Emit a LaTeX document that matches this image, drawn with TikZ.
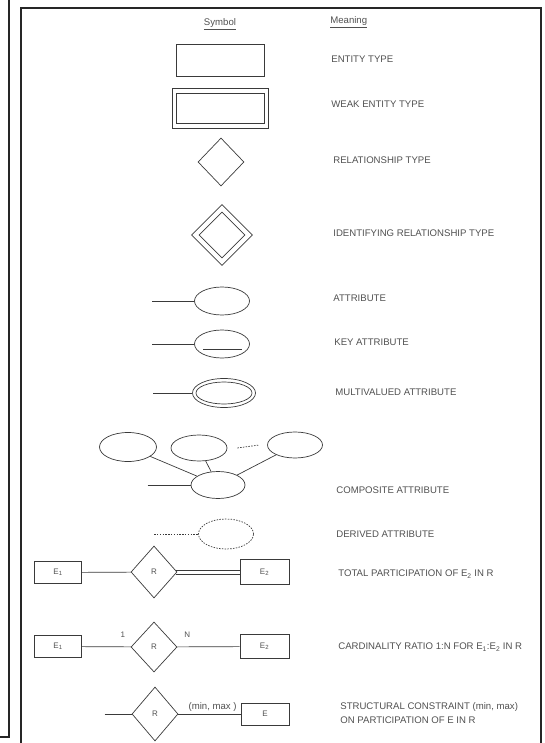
\documentclass[tikz,border=0pt]{standalone}
\usepackage{fontspec}
\setmainfont{Liberation Sans}
\usetikzlibrary{shapes.geometric,positioning}
\definecolor{ink}{HTML}{3A3A3A}
\definecolor{txt}{HTML}{505050}

\begin{document}
\begin{tikzpicture}[
  x=1pt,y=-1pt,
  font=\fontsize{9.6}{14}\selectfont,
  color=ink,line width=0.7pt,
  ent/.style={draw,rectangle,minimum width=88pt,minimum height=32pt,inner sep=0pt},
  rel/.style={draw,diamond,minimum width=46pt,minimum height=52pt,inner sep=0pt,
    font=\fontsize{8}{9}\selectfont,text=txt},
  attr/.style={draw,ellipse,minimum width=55pt,minimum height=28pt,inner sep=0pt},
  ebox/.style={draw,rectangle,minimum width=47pt,minimum height=22pt,inner sep=0pt,
    font=\fontsize{8}{9}\selectfont,text=txt},
  mean/.style={anchor=west,align=left,inner sep=0pt,text=txt},
  lbl/.style={inner sep=1pt,text=txt},
  derv/.style={dash pattern=on 1.5pt off 1.3pt},
  frame/.style={line width=1.5pt,draw=black!85}]
\useasboundingbox (0,0) rectangle (545,743);
\draw[frame] (9,0) -- (9,737) -- (0,737);
\draw[frame] (21,743) -- (21,8) -- (541,8) -- (541,743);

\node[lbl] (symh) at (220,24) {\underline{Symbol}};
\node[lbl,anchor=west,inner sep=0pt] (meah) at (330,22) {\underline{Meaning}};

\node[ent] (ent) at (220,60) {};
\node[ent,minimum width=96pt,minimum height=40pt] (weak) at (220,108) {};
\node[ent,minimum width=88pt,minimum height=30pt] (weakin) at (220,108) {};
\node[rel,minimum height=48pt] (rel) at (221,162) {};
\node[rel,minimum width=61pt,minimum height=61pt] (idrel) at (222,235) {};
\node[rel,minimum width=46pt,minimum height=46pt] (idrelin) at (222,235) {};

\node[attr] (att) at (222,301) {};
\coordinate[left=42pt of att] (attl);
\draw (attl) -- (att);

\node[attr] (key) at (222,344) {};
\coordinate[left=42pt of key] (keyl);
\draw (keyl) -- (key);
\draw ([shift={(-19,5)}]key.center) -- ([shift={(20,5)}]key.center);

\node[attr,minimum width=63pt,minimum height=29pt] (mult) at (224,393) {};
\node[attr,minimum width=56pt,minimum height=22pt] (multin) at (224,393) {};
\coordinate[left=39pt of mult] (multl);
\draw (multl) -- (mult);

\node[attr,minimum width=57pt,minimum height=29pt] (cp1) at (128,447) {};
\node[attr,minimum width=56pt,minimum height=26pt] (cp2) at (199,448) {};
\node[attr,minimum width=55pt,minimum height=26pt] (cp3) at (295,445) {};
\node[attr,minimum width=54pt,minimum height=27pt] (comp) at (218,485) {};
\coordinate[left=43pt of comp] (compl);
\coordinate[right=10pt of cp2] (dots1);
\coordinate[left=8pt of cp3] (dots2);
\draw (compl) -- (comp);
\draw (cp1) -- (comp); \draw (cp2) -- (comp); \draw (cp3) -- (comp);
\draw[derv] (dots1) -- (dots2);

\node[attr,derv,minimum width=55pt,minimum height=30pt] (der) at (226,534) {};
\coordinate[left=44pt of der] (derl);
\draw[derv] (derl) -- (der);

\node[ebox] (te1) at (58,572.5) {E\textsubscript{1}};
\node[rel] (tr) at (154,572) {R};
\node[ebox,minimum width=49pt,minimum height=25pt] (te2) at (264.5,572) {E\textsubscript{2}};
\draw (te1) -- (tr);
\draw ([shift={(-1.8,-2)}]tr.east) -- ([shift={(0,-2)}]te2.west);
\draw ([shift={(-1.8,2)}]tr.east) -- ([shift={(0,2)}]te2.west);

\node[ebox] (ce1) at (58,646.5) {E\textsubscript{1}};
\node[rel,minimum height=50pt] (cr) at (154,647) {R};
\node[ebox,minimum width=49pt,minimum height=24pt] (ce2) at (264.5,646.5) {E\textsubscript{2}};
\draw (ce1) -- node[lbl,pos=0.84,above=8pt,font=\fontsize{8}{9}\selectfont] {1} (cr);
\draw (cr) -- node[lbl,pos=0.16,above=8pt,font=\fontsize{8}{9}\selectfont] {N} (ce2);

\node[rel,minimum height=54pt] (sr) at (155,714) {R};
\node[ebox,minimum width=48pt] (se) at (265,714) {E};
\coordinate[left=27pt of sr] (srl);
\draw (srl) -- (sr);
\draw (sr) -- node[lbl,pos=0.55,above=1pt] {(min, max )} (se);

\node[mean] (entm) at (331,59) {ENTITY TYPE};
\node[mean] (weakm) at (331,104) {WEAK ENTITY TYPE};
\node[mean] (relm) at (333,160) {RELATIONSHIP TYPE};
\node[mean] (idrelm) at (333,233) {IDENTIFYING RELATIONSHIP TYPE};
\node[mean] (attm) at (333,298) {ATTRIBUTE};
\node[mean] (keym) at (334,342) {KEY ATTRIBUTE};
\node[mean] (multm) at (335,392) {MULTIVALUED ATTRIBUTE};
\node[mean] (compm) at (336,490) {COMPOSITE ATTRIBUTE};
\node[mean] (derm) at (336,534) {DERIVED ATTRIBUTE};
\node[mean] (totm) at (338,574) {TOTAL PARTICIPATION OF E\textsubscript{2} IN R};
\node[mean] (cardm) at (338,647) {CARDINALITY RATIO 1:N FOR E\textsubscript{1}:E\textsubscript{2} IN R};
\node[mean] (strm) at (340,713) {STRUCTURAL CONSTRAINT (min, max)\\ON PARTICIPATION OF E IN R};
\end{tikzpicture}
\end{document}
